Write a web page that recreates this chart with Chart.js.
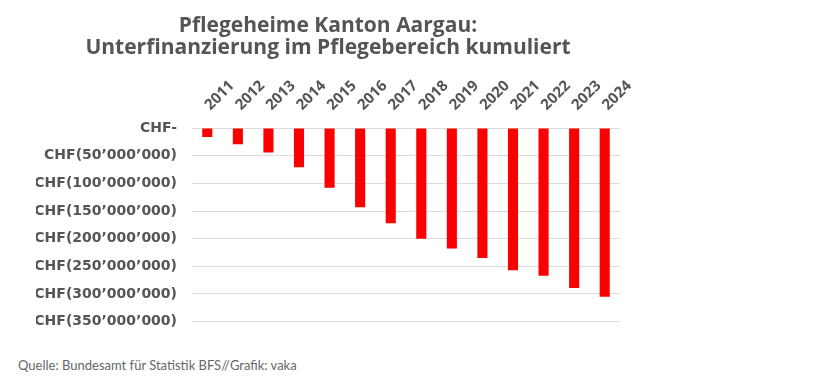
<!DOCTYPE html>
<html>
<head>
<meta charset="utf-8">
<script src="https://cdn.jsdelivr.net/npm/chart.js@4"></script>
<style>
    body { margin: 0; background: #fff; width: 821px; height: 383px; overflow: hidden; }
    #wrap { position: absolute; left: 0; top: 0; width: 656px; height: 345px; }
    #source { position: absolute; left: 18px; top: 357px; font-family: Lato, sans-serif; font-size: 13px; color: #666; }
</style>
</head>
<body>
<div id="wrap"><canvas id="pflegeChart"></canvas></div>
<div id="source">Quelle: Bundesamt für Statistik BFS//Grafik: vaka</div>
<script>
// Jahre und kumulierte Unterfinanzierung (CHF, negativ)
const years = ['2011', '2012', '2013', '2014', '2015', '2016', '2017', '2018', '2019', '2020', '2021', '2022', '2023', '2024'];
const underfunding = [-16000000, -29000000, -44000000, -71000000, -108000000, -143000000, -172000000, -200000000, -218000000, -235000000, -257000000, -267000000, -289000000, -305000000];

const yTickValues = [0, -50000000, -100000000, -150000000, -200000000, -250000000, -300000000, -350000000];
const yTickLabels = ['CHF-', 'CHF(50’000’000)', 'CHF(100’000’000)', 'CHF(150’000’000)', 'CHF(200’000’000)', 'CHF(250’000’000)', 'CHF(300’000’000)', 'CHF(350’000’000)'];

const titleLines = ['Pflegeheime Kanton Aargau:', 'Unterfinanzierung im Pflegebereich kumuliert'];

const pflegeData = {
    labels: years,
    datasets: [{
        label: 'Unterfinanzierung kumuliert',
        data: underfunding,
        backgroundColor: 'rgb(250, 0, 0)',
        borderWidth: 0,
        barPercentage: 1,
        categoryPercentage: 0.33
    }]
};

const pflegeConfig = {
    type: 'bar',
    data: pflegeData,
    options: {
        responsive: true,
        maintainAspectRatio: false,
        animation: false,
        layout: {
            padding: { left: 36, right: 36, top: 0, bottom: 11 }
        },
        plugins: {
            legend: { display: false },
            tooltip: { enabled: false },
            title: {
                display: true,
                text: titleLines,
                color: '#555',
                font: { family: 'Open Sans', size: 21, weight: 'bold', lineHeight: 1.05 },
                padding: { top: 15, bottom: 2 }
            }
        },
        scales: {
            x: {
                position: 'top',
                grid: { display: false, drawTicks: false },
                border: { display: false },
                afterFit: (scale) => { scale.height = 67; },
                ticks: {
                    color: '#555',
                    font: { family: 'Open Sans', size: 15, weight: 'bold' },
                    minRotation: 45,
                    maxRotation: 45,
                    labelOffset: 13,
                    padding: 14
                }
            },
            y: {
                min: -350000000,
                max: 0,
                grid: { color: '#dcdcdc', drawTicks: false },
                border: { display: false },
                afterFit: (scale) => { scale.width = 156; },
                ticks: {
                    stepSize: 50000000,
                    padding: 15,
                    color: '#555',
                    font: { family: 'DejaVu Sans', size: 14, weight: 'bold' },
                    callback: (value) => {
                        const i = yTickValues.indexOf(value);
                        return i >= 0 ? yTickLabels[i] : '';
                    }
                }
            }
        }
    }
};

const pflegeChart = new Chart(
    document.getElementById('pflegeChart'),
    pflegeConfig
);
</script>
</body>
</html>
